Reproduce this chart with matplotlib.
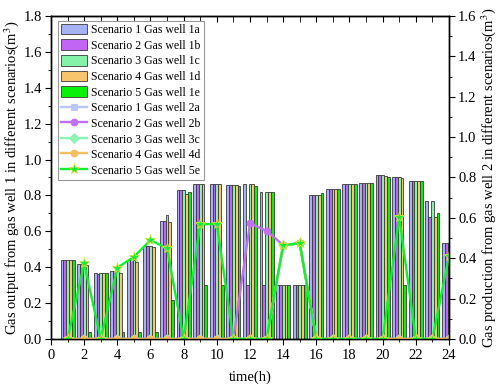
import matplotlib
matplotlib.use("Agg")
import matplotlib.pyplot as plt
import numpy as np
from matplotlib.ticker import MultipleLocator

plt.rcParams['font.family'] = ['Liberation Serif', 'DejaVu Serif']
plt.rcParams['mathtext.fontset'] = 'stix'

hours = list(range(1, 25))

# Gas well 1 output (left axis) per scenario
s1_bar = [0.44, 0.42, 0.37, 0.38, 0.44, 0.52, 0.66, 0.83, 0.865, 0.865, 0.86, 0.865,
          0.82, 0.30, 0.30, 0.80, 0.835, 0.865, 0.87, 0.915, 0.90, 0.88, 0.77, 0.535]
s2_bar = [0.44, 0.42, 0.36, 0.38, 0.44, 0.52, 0.66, 0.83, 0.865, 0.865, 0.86, 0.30,
          0.30, 0.30, 0.30, 0.80, 0.835, 0.865, 0.87, 0.915, 0.90, 0.88, 0.68, 0.535]
s3_bar = [0.44, 0.42, 0.37, 0.38, 0.44, 0.52, 0.69, 0.83, 0.865, 0.865, 0.86, 0.865,
          0.82, 0.30, 0.30, 0.80, 0.835, 0.865, 0.87, 0.915, 0.90, 0.88, 0.77, 0.535]
s4_bar = [0.44, 0.41, 0.37, 0.37, 0.43, 0.51, 0.65, 0.81, 0.865, 0.865, 0.86, 0.865,
          0.82, 0.30, 0.30, 0.80, 0.835, 0.865, 0.87, 0.91, 0.895, 0.88, 0.68, 0.535]
s5_bar = [0.44, 0.04, 0.37, 0.04, 0.04, 0.04, 0.22, 0.82, 0.30, 0.30, 0.855, 0.85,
          0.82, 0.30, 0.30, 0.815, 0.835, 0.865, 0.87, 0.905, 0.30, 0.88, 0.70, 0.535]

# Gas well 2 production (right axis) per scenario
s1_line = [0, 0, 0, 0, 0, 0, 0, 0, 0, 0, 0, 0, 0, 0.465, 0.474, 0, 0, 0, 0, 0, 0, 0, 0, 0]
s2_line = [0, 0, 0, 0, 0, 0, 0, 0, 0, 0, 0, 0.573, 0.536, 0.465, 0.474, 0, 0, 0, 0, 0, 0, 0, 0, 0]
s3_line = [0, 0, 0, 0, 0, 0, 0, 0, 0, 0, 0, 0, 0, 0.465, 0.474, 0, 0, 0, 0, 0, 0, 0, 0, 0]
s4_line = [0, 0, 0, 0, 0, 0, 0, 0, 0, 0, 0, 0, 0, 0.465, 0.474, 0, 0, 0, 0, 0, 0, 0, 0, 0]
s5_line = [0, 0.375, 0, 0.353, 0.407, 0.49, 0.449, 0, 0.569, 0.569, 0, 0, 0, 0.465, 0.474,
           0, 0, 0, 0, 0, 0.605, 0, 0, 0.41]

bar_labels = ['Scenario 1 Gas well 1a', 'Scenario 2 Gas well 1b', 'Scenario 3 Gas well 1c',
              'Scenario 4 Gas well 1d', 'Scenario 5 Gas well 1e']
line_labels = ['Scenario 1 Gas well 2a', 'Scenario 2 Gas well 2b', 'Scenario 3 Gas well 3c',
               'Scenario 4 Gas well 4d', 'Scenario 5 Gas well 5e']

bar_colors = ['#a7b2f2', '#c166f4', '#84f2a8', '#f8c46c', '#0af00a']
line_colors = ['#b9c6f6', '#c070f0', '#8cf5b5', '#f5c060', '#10f030']
markers = ['s', 'o', 'D', 'o', '*']

fig = plt.figure(figsize=(4.98, 3.87), dpi=100)
ax = fig.add_axes([0.1024, 0.124, 0.7992, 0.8347])
ax2 = ax.twinx()

x = np.array(hours, dtype=float)
w = 0.17
bars = [s1_bar, s2_bar, s3_bar, s4_bar, s5_bar]
bar_handles = []
for i, (vals, c, lab) in enumerate(zip(bars, bar_colors, bar_labels)):
    h = ax.bar(x + (i - 2) * w, vals, width=w, color=c, edgecolor='#3a3a3a',
               linewidth=0.6, label=lab)
    bar_handles.append(h)

lines = [s1_line, s2_line, s3_line, s4_line, s5_line]
line_handles = []
for i, (vals, c, m, lab) in enumerate(zip(lines, line_colors, markers, line_labels)):
    ms = 8 if m == '*' else 5
    mec = '#d8e040' if m == '*' else c
    h, = ax2.plot(x, vals, color=c, marker=m, markersize=ms, markeredgecolor=mec,
                  markeredgewidth=0.6, linewidth=1.7, label=lab, clip_on=True)
    line_handles.append(h)

ax.set_xlim(0, 24)
ax.set_ylim(0, 1.8)
ax2.set_ylim(0, 1.6)

ax.xaxis.set_major_locator(MultipleLocator(2))
ax.xaxis.set_minor_locator(MultipleLocator(1))
ax.yaxis.set_major_locator(MultipleLocator(0.2))
ax.yaxis.set_minor_locator(MultipleLocator(0.1))
ax2.yaxis.set_major_locator(MultipleLocator(0.2))
ax2.yaxis.set_minor_locator(MultipleLocator(0.1))
ax.yaxis.set_major_formatter(plt.FuncFormatter(lambda v, p: f'{v:.1f}'))
ax2.yaxis.set_major_formatter(plt.FuncFormatter(lambda v, p: f'{v:.1f}'))

fs = 10.5
ax.tick_params(axis='x', which='both', direction='out', top=False, labelsize=fs)
ax.tick_params(axis='x', which='major', length=4)
ax.tick_params(axis='x', which='minor', length=2.5)
ax.tick_params(axis='y', which='major', direction='out', length=4, labelsize=fs, pad=2.5)
ax.tick_params(axis='y', which='minor', direction='out', length=2.5)
ax2.tick_params(axis='y', which='major', direction='out', length=4, labelsize=fs, pad=2.5)
ax2.tick_params(axis='y', which='minor', direction='out', length=2.5)

# top mirrored ticks (inward)
sec = ax.secondary_xaxis('top')
sec.xaxis.set_major_locator(MultipleLocator(2))
sec.xaxis.set_minor_locator(MultipleLocator(1))
sec.tick_params(axis='x', which='both', direction='in', labeltop=False)
sec.tick_params(axis='x', which='major', length=4)
sec.tick_params(axis='x', which='minor', length=4)

for a in (ax, ax2):
    for s in a.spines.values():
        s.set_linewidth(1.0)

ax.set_xlabel('time(h)', fontsize=fs, labelpad=6)
ax.set_ylabel('Gas output from gas well 1 in different scenarios(m$^3$)', fontsize=fs, labelpad=2)
ax2.set_ylabel('Gas production from gas well 2 in different scenarios(m$^3$)', fontsize=fs,
               labelpad=2)

leg = ax2.legend(bar_handles + line_handles, bar_labels + line_labels,
                 loc='upper left', bbox_to_anchor=(0.018, 0.985), fontsize=8.5,
                 frameon=True, fancybox=False, framealpha=1, edgecolor='#999999',
                 borderpad=0.25, labelspacing=0.28, handlelength=2.2, handleheight=1.0,
                 handletextpad=0.35, borderaxespad=0.0)
leg.get_frame().set_linewidth(0.8)

fig.savefig('out.png', dpi=100)
